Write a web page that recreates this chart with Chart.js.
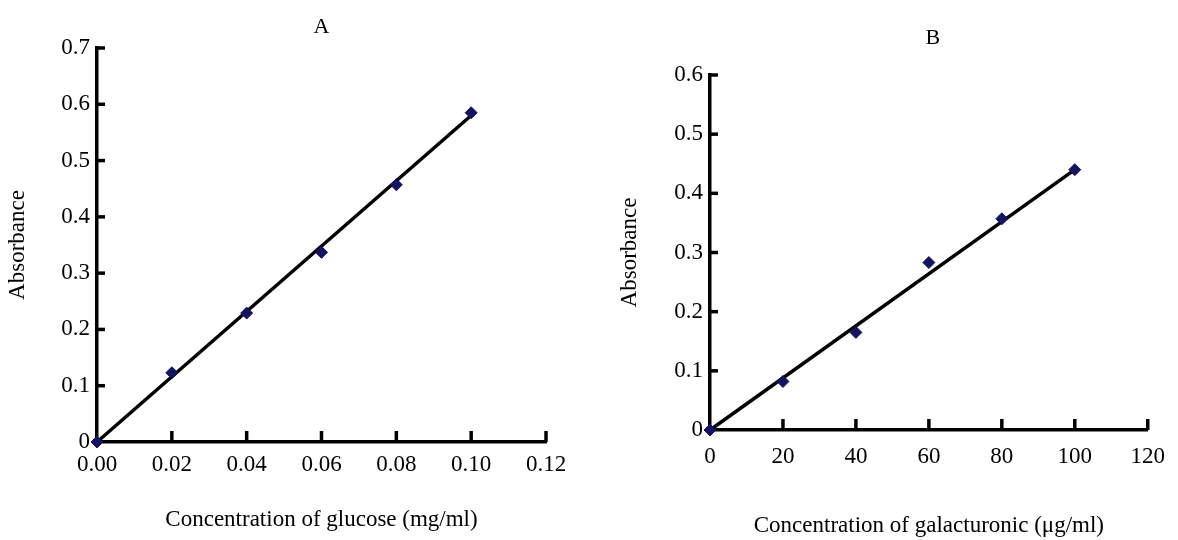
<!DOCTYPE html>
<html>
<head>
<meta charset="utf-8">
<script src="https://cdn.jsdelivr.net/npm/chart.js@4/dist/chart.umd.min.js"></script>
<style>
  html, body { margin: 0; padding: 0; background: #fff; }
  body { width: 1178px; height: 540px; position: relative; overflow: hidden; }
  .box { position: absolute; top: 0; width: 589px; height: 540px; }
  #boxA { left: 0; }
  #boxB { left: 589px; }
</style>
</head>
<body>
<div class="box" id="boxA"><canvas id="chartA" width="589" height="540"></canvas></div>
<div class="box" id="boxB"><canvas id="chartB" width="589" height="540"></canvas></div>
<script>
// ---- Data ----
const glucoseConc = [0, 0.02, 0.04, 0.06, 0.08, 0.10];
const glucoseAbs  = [0, 0.123, 0.229, 0.337, 0.457, 0.585];
const glucoseFitX = [0, 0.10];
const glucoseFitY = [0, 0.58];
const glucoseXTicks = ['0.00', '0.02', '0.04', '0.06', '0.08', '0.10', '0.12'];
const glucoseYTicks = ['0', '0.1', '0.2', '0.3', '0.4', '0.5', '0.6', '0.7'];

const galactConc = [0, 20, 40, 60, 80, 100];
const galactAbs  = [0, 0.082, 0.165, 0.283, 0.357, 0.44];
const galactFitX = [0, 100];
const galactFitY = [0, 0.44];
const galactXTicks = ['0', '20', '40', '60', '80', '100', '120'];
const galactYTicks = ['0', '0.1', '0.2', '0.3', '0.4', '0.5', '0.6'];

const FONT = '"Liberation Serif", "Times New Roman", serif';
const FS = 23;

// Inward tick marks + panel letter drawn through the scales
const innerTicks = {
  id: 'innerTicks',
  afterDatasetsDraw(chart, args, opts) {
    const ctx = chart.ctx;
    const xs = chart.scales.x, ys = chart.scales.y;
    const bottom = chart.chartArea.bottom, left = chart.chartArea.left;
    ctx.save();
    ctx.strokeStyle = '#000';
    ctx.lineWidth = 3.5;
    ctx.lineCap = 'butt';
    xs.ticks.forEach(t => {
      if (t.value === xs.min) return;
      const px = xs.getPixelForValue(t.value);
      ctx.beginPath(); ctx.moveTo(px, bottom); ctx.lineTo(px, bottom - 11); ctx.stroke();
    });
    ys.ticks.forEach(t => {
      if (t.value === ys.min) return;
      const py = ys.getPixelForValue(t.value);
      ctx.beginPath(); ctx.moveTo(left, py); ctx.lineTo(left + 8, py); ctx.stroke();
    });
    ctx.restore();
  },
  afterDraw(chart, args, opts) {
    const ctx = chart.ctx;
    ctx.save();
    ctx.fillStyle = '#000';
    ctx.font = '22px ' + FONT;
    ctx.textAlign = 'center';
    ctx.textBaseline = 'middle';
    const ca = chart.chartArea;
    ctx.fillText(opts.letter, (ca.left + ca.right) / 2 + opts.dx, opts.y);
    ctx.restore();
  }
};

function makeChart(id, cfg) {
  const pts = cfg.xs.map((x, i) => ({x: x, y: cfg.ys[i]}));
  const fit = cfg.fx.map((x, i) => ({x: x, y: cfg.fy[i]}));
  return new Chart(document.getElementById(id), {
    type: 'scatter',
    data: {
      datasets: [
        {
          type: 'line', data: fit, borderColor: '#000', borderWidth: 3.5,
          pointRadius: 0, fill: false, tension: 0, clip: false, order: 2
        },
        {
          data: pts, pointStyle: 'rectRot', pointRadius: 6,
          backgroundColor: '#14145e', borderColor: '#14145e', borderWidth: 1,
          clip: false, order: 1
        }
      ]
    },
    options: {
      responsive: false,
      animation: false,
      events: [],
      layout: { padding: { top: cfg.top, right: cfg.right, left: 0, bottom: 0 } },
      plugins: {
        legend: { display: false },
        tooltip: { enabled: false },
        innerTicks: { letter: cfg.letter, y: cfg.letterY, dx: cfg.letterDx }
      },
      scales: {
        x: {
          type: 'linear', min: 0, max: cfg.xmax,
          afterFit(s) { s.height = cfg.xh; },
          afterBuildTicks(s) { s.ticks = cfg.xTickLabels.map((l, i) => ({value: i * cfg.xstep})); },
          grid: { display: false, drawTicks: false },
          border: { display: true, color: '#000', width: 3.5 },
          ticks: {
            padding: cfg.xpad, color: '#000', font: { family: FONT, size: FS },
            maxRotation: 0, autoSkip: false,
            callback: (v, i) => cfg.xTickLabels[i]
          },
          title: {
            display: true, text: cfg.xTitle, color: '#000',
            font: { family: FONT, size: FS }, padding: { top: 0, bottom: cfg.xTitlePad }
          }
        },
        y: {
          type: 'linear', min: 0, max: cfg.ymax,
          afterFit(s) { s.width = cfg.yw; },
          afterBuildTicks(s) { s.ticks = cfg.yTickLabels.map((l, i) => ({value: i * 0.1})); },
          grid: { display: false, drawTicks: false },
          border: { display: true, color: '#000', width: 3.5 },
          ticks: {
            padding: 7, color: '#000', font: { family: FONT, size: FS },
            autoSkip: false,
            callback: (v, i) => cfg.yTickLabels[i]
          },
          title: {
            display: true, text: 'Absorbance', color: '#000',
            font: { family: FONT, size: FS }, padding: { top: cfg.yTitlePad, bottom: 0 }
          }
        }
      }
    },
    plugins: [innerTicks]
  });
}

makeChart('chartA', {
  xs: glucoseConc, ys: glucoseAbs, fx: glucoseFitX, fy: glucoseFitY,
  xTickLabels: glucoseXTicks, yTickLabels: glucoseYTicks,
  xmax: 0.12, xstep: 0.02, ymax: 0.7,
  top: 48, right: 43, yw: 97, xh: 98, xpad: 9, xTitlePad: 6, yTitlePad: 4,
  xTitle: 'Concentration of glucose (mg/ml)',
  letter: 'A', letterY: 27, letterDx: 0
});

makeChart('chartB', {
  xs: galactConc, ys: galactAbs, fx: galactFitX, fy: galactFitY,
  xTickLabels: galactXTicks, yTickLabels: galactYTicks,
  xmax: 120, xstep: 20, ymax: 0.6,
  top: 75, right: 20, yw: 121, xh: 110, xpad: 13, xTitlePad: 0, yTitlePad: 27,
  xTitle: 'Concentration of galacturonic (\u03BCg/ml)',
  letter: 'B', letterY: 38, letterDx: 4
});
</script>
</body>
</html>
